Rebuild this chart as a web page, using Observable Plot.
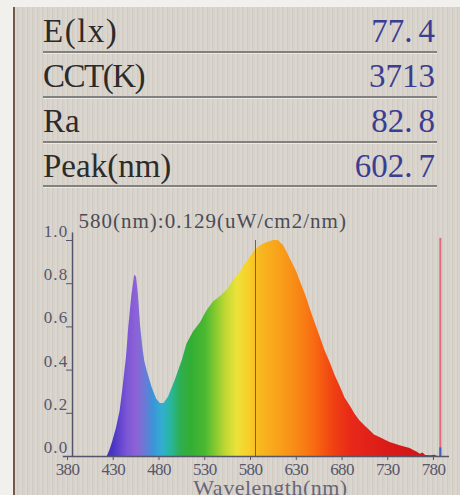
<!DOCTYPE html>
<html><head><meta charset="utf-8">
<script src="https://cdn.jsdelivr.net/npm/d3@7"></script>
<script src="https://cdn.jsdelivr.net/npm/@observablehq/plot@0.6"></script>
<style>
html,body{margin:0;padding:0;}
body{width:460px;height:495px;overflow:hidden;background:#f1f0ed;position:relative;font-family:"Liberation Serif",serif;}
#panel{position:absolute;left:13px;top:7px;width:447px;height:488px;background:#d7d2ca;
  background-image:repeating-linear-gradient(90deg,rgba(255,255,255,0.10) 0 2px,rgba(0,0,0,0.035) 2px 3px,rgba(255,255,255,0) 3px 5px);
  border-left:2px solid #6f5a4a;box-sizing:border-box;}
.sep{position:absolute;left:43px;width:394px;height:1.5px;background:#83817d;box-shadow:0 1px 0 rgba(255,255,255,0.5);}
.lab{position:absolute;left:43px;font-size:33px;line-height:33px;color:#2c2b2b;white-space:nowrap;}
.val{position:absolute;right:25px;font-size:33px;line-height:33px;color:#3b3d92;white-space:nowrap;}
.dot{margin-right:6px}
#chart{position:absolute;left:13px;top:200px;}
</style></head>
<body>
<div id="panel"></div>
<div id="table"></div>
<div id="chart"></div>
<script>
// ---- readout table ----
const readLabels = ["E(lx)", "CCT(K)", "Ra", "Peak(nm)"];
const readValues = ["77.4", "3713", "82.8", "602.7"];

// ---- spectrum (relative intensity) ----
const wavelengths = [418,421,424,428,432,435,439,441.5,445,448,450,452,454.5,457,459,462,467,472,476,480,485,492,500,505,512,520,527,534,543,550,556,563,567,574,580,585,592,600,605,611,618,625,629,635,640,645,651,656,662,667,673,678,684,689,694,700,705,710,716,722,727,733,738,744,749,753,757,760,763,766,772,776,779];
const intensity   = [0,0.03,0.07,0.13,0.21,0.31,0.46,0.60,0.75,0.84,0.83,0.75,0.60,0.50,0.44,0.39,0.32,0.265,0.245,0.245,0.275,0.35,0.445,0.52,0.575,0.62,0.675,0.715,0.745,0.775,0.815,0.85,0.88,0.92,0.955,0.975,0.99,1.0,1.0,0.975,0.915,0.855,0.81,0.745,0.68,0.62,0.55,0.49,0.43,0.375,0.32,0.27,0.23,0.195,0.165,0.14,0.12,0.10,0.088,0.075,0.065,0.057,0.05,0.043,0.037,0.028,0.02,0.01,0.016,0.005,0.004,0.006,0];

const xTicks = [380,430,480,530,580,630,680,730,780];
const yTicks = [0,0.2,0.4,0.6,0.8,1.0];
const cursorWavelength = 580;
const cursorText = "580(nm):0.129(uW/cm2/nm)";
const markerWavelength = 782;
const xTitle = "Wavelength(nm)";

// spectrum colour stops (wavelength, colour)
const stopWl  = [410,425,440,450,460,468,478,488,498,510,525,537,548,560,572,585,605,625,645,665,685,730,780];
const stopCol = ["#3a2aa8","#4a36c6","#7c56d6","#8e62d6","#6a7ad6","#3d92d8","#32aed2","#27b79c","#2fae52","#33ae33","#4ab832","#86ca30","#c2d833","#ece23a","#f8d02a","#f8b820","#f8a21a","#f88a16","#f86a12","#f04212","#e82818","#d81a18","#c81818"];

// table
const tbl = document.getElementById("table");
const baseTops = [15, 60, 105, 150];
const sepTops = [51, 96, 141, 185];
readLabels.forEach((lab, i) => {
  const l = document.createElement("div");
  l.className = "lab"; l.style.top = baseTops[i] + "px"; l.textContent = lab;
  if (lab === "E(lx)") l.style.letterSpacing = "1.5px";
  if (lab === "CCT(K)") l.style.letterSpacing = "-1.5px";
  tbl.appendChild(l);
  const v = document.createElement("div");
  v.className = "val"; v.style.top = baseTops[i] + "px";
  const s = readValues[i];
  const k = s.indexOf(".");
  if (k >= 0) {
    v.appendChild(document.createTextNode(s.slice(0, k)));
    const d = document.createElement("span"); d.className = "dot"; d.textContent = ".";
    v.appendChild(d);
    v.appendChild(document.createTextNode(s.slice(k + 1)));
  } else v.textContent = s;
  tbl.appendChild(v);
  const sp = document.createElement("div");
  sp.className = "sep"; sp.style.top = sepTops[i] + "px";
  tbl.appendChild(sp);
});

const data = wavelengths.map((w, i) => ({w, v: intensity[i]}));
const axisColor = "#55546a";

const plot = Plot.plot({
  width: 447, height: 295,
  marginLeft: 59, marginRight: 22, marginTop: 40, marginBottom: 39,
  x: {domain: [380, 780]},
  y: {domain: [0, 1]},
  style: {background: "transparent", fontFamily: "Liberation Serif, serif", color: "#57566a", overflow: "visible"},
  marks: [
    Plot.areaY(data, {x: "w", y: "v", fill: "url(#specGrad)"}),
    Plot.ruleX([cursorWavelength], {y1: 0, y2: 1.0, stroke: "#b0443a", strokeWidth: 1}),
    Plot.ruleX([markerWavelength], {y1: 0, y2: 1.01, stroke: "#e2687e", strokeWidth: 2}),
    Plot.ruleX([markerWavelength], {y1: 0, y2: 0.04, stroke: "#4060c0", strokeWidth: 2}),
    Plot.ruleY([0], {x1: 370, x2: 792, stroke: axisColor, strokeWidth: 1.5}),
    Plot.ruleX([380], {y1: 0, y2: 1.035, stroke: axisColor, strokeWidth: 1.5}),
    Plot.axisX({ticks: xTicks, tickSize: 4, tickPadding: 2, dx: -5, label: null, fontSize: 17, tickFormat: d => String(d)}),
    Plot.axisY({ticks: yTicks, tickSize: 6, label: null, tickFormat: () => ""}),
    Plot.axisY({ticks: yTicks, tickSize: 0, tickPadding: 4, dy: -9, label: null, fontSize: 17, tickFormat: d3.format(".1f")}),
    Plot.text([cursorText], {frameAnchor: "top-left", textAnchor: "start", lineAnchor: "bottom", dx: 6, dy: -13, fontSize: 21, fill: "#4c4b55"}),
    Plot.text([xTitle], {frameAnchor: "bottom", lineAnchor: "bottom", dx: 15, dy: 38, fontSize: 22, fill: "#676678"})
  ]
});
document.getElementById("chart").appendChild(plot);

// gradient for the spectrum fill, positioned with the x scale
const xs = plot.scale("x");
const svg = d3.select(plot);
const grad = svg.insert("defs", ":first-child").append("linearGradient")
  .attr("id", "specGrad").attr("gradientUnits", "userSpaceOnUse")
  .attr("x1", xs.apply(380)).attr("x2", xs.apply(780)).attr("y1", 0).attr("y2", 0);
stopWl.forEach((w, i) => grad.append("stop").attr("offset", Math.max(0, (w - 380) / 400)).attr("stop-color", stopCol[i]));

svg.selectAll("text").filter(function() { return /^[0-9]+$/.test(this.textContent); }).attr("letter-spacing", -0.6);
svg.selectAll("text").filter(function() { return /^[0-9]\.[0-9]$/.test(this.textContent); }).attr("letter-spacing", 1.2);
svg.selectAll("text").filter(function() { return this.textContent === cursorText; }).attr("letter-spacing", 1);
svg.selectAll("text").filter(function() { return this.textContent === xTitle; }).attr("letter-spacing", 0.5);
</script>
</body></html>
